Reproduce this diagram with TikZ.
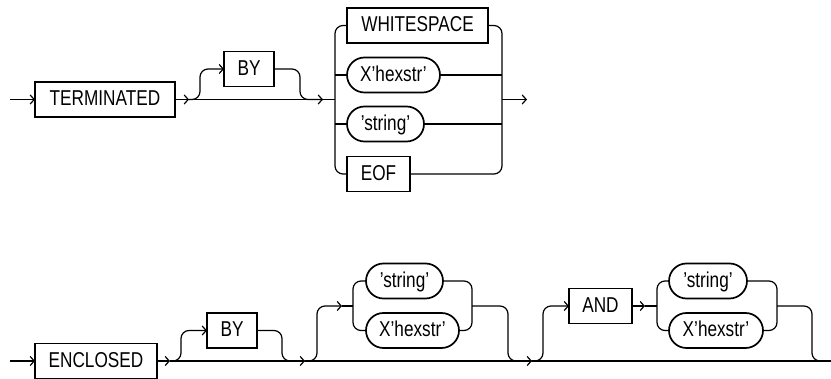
\documentclass[tikz,border=0pt]{standalone}
\usepackage{fontspec}
\setmainfont{Liberation Sans}[FakeStretch=0.8]
\usetikzlibrary{arrows.meta}
\begin{document}
\begin{tikzpicture}[x=1pt,y=-1pt,
 line/.style={line width=1.2pt},
 arr/.style={line, -{Straight Barb[length=4pt,width=9pt]}},
 rc/.style={line, rounded corners=8pt},
 kw/.style={draw, line width=1.7pt, minimum height=35pt, anchor=west, outer sep=0pt, inner sep=0pt,
   text height=16pt, text depth=3.5pt, font=\fontsize{21.5}{24}\selectfont},
 lit/.style={kw, rounded corners=17.5pt}]
\useasboundingbox (0,0) rectangle (831,379);

% ---------- top row ----------
\node[kw, minimum width=140pt] (term) at (35,99.5) {TERMINATED};
\node[kw, minimum width=50pt] (by1) at (224,69) {BY};
\node[kw, minimum width=141pt] (ws) at (347,25.5) {WHITESPACE};
\node[lit, minimum width=93pt] (hex1) at (347,75) {X’hexstr’};
\node[lit, minimum width=77pt] (str1) at (347,124) {’string’};
\node[kw, minimum width=63pt] (eof) at (347,174) {EOF};

\coordinate (s1) at (10,99.5);
\coordinate (t1) at (189,99.5);
\coordinate (u1) at (200,99.5);
\coordinate (d1) at (300,99.5);
\coordinate (t2) at (323,99.5);
\coordinate (cl) at (335,99.5);
\coordinate (cr) at (502,99.5);
\coordinate (e1) at (527,99.5);

\draw[arr] (s1) -- (term.west);
\draw[arr] (term.east) -- (t1);
\draw[arr] (t1) -- (t2);
\draw[line] (t2) -- (cl);
\draw[arr, rc] (t1) -- (u1) |- (by1.west);
\draw[rc] (by1.east) -| (d1) -- (t2);

\draw[rc] (ws.west) -| (cl) |- (eof.west);
\draw[line] (hex1.west) -- (hex1.west -| cl);
\draw[line] (str1.west) -- (str1.west -| cl);
\draw[rc] (ws.east) -| (cr) |- (eof.east);
\draw[line] (hex1.east) -- (hex1.east -| cr);
\draw[line] (str1.east) -- (str1.east -| cr);
\draw[arr] (cr) -- (e1);

% ---------- bottom row ----------
\node[kw, minimum width=122pt] (enc) at (35,361) {ENCLOSED};
\node[kw, minimum width=50pt] (by2) at (207,330.5) {BY};
\node[lit, minimum width=77pt] (str2) at (366,281) {’string’};
\node[lit, minimum width=93pt] (hex2) at (366,330.5) {X’hexstr’};
\node[kw, minimum width=63pt] (and) at (569,306) {AND};
\node[lit, minimum width=78pt] (str3) at (669,281) {’string’};
\node[lit, minimum width=94pt] (hex3) at (669,330.5) {X’hexstr’};

\coordinate (s2) at (10,361);
\coordinate (b1) at (170,361);
\coordinate (u2) at (181,361);
\coordinate (d2) at (282,361);
\coordinate (b2) at (305,361);
\coordinate (u3) at (317,361);
\coordinate (a3) at (342,306);
\coordinate (gl1) at (353,306);
\coordinate (gr1) at (472,306);
\coordinate (d3) at (508,361);
\coordinate (b3) at (532,361);
\coordinate (u4) at (543,361);
\coordinate (a4) at (645,306);
\coordinate (gl2) at (657,306);
\coordinate (gr2) at (777,306);
\coordinate (d4) at (812,361);
\coordinate (bend) at (831,361);

\draw[arr] (s2) -- (enc.west);
\draw[arr] (enc.east) -- (b1);
\draw[arr] (b1) -- (b2);
\draw[arr] (b2) -- (b3);
\draw[line] (b3) -- (bend);

\draw[arr, rc] (b1) -- (u2) |- (by2.west);
\draw[rc] (by2.east) -| (d2) -- (b2);

\draw[arr, rc] (b2) -- (u3) |- (a3);
\draw[line] (a3) -- (gl1);
\draw[rc] (str2.west) -| (gl1) |- (hex2.west);
\draw[rc] (str2.east) -| (gr1) |- (hex2.east);
\draw[rc] (gr1) -| (d3) -- (b3);

\draw[arr, rc] (b3) -- (u4) |- (and.west);
\draw[arr] (and.east) -- (a4);
\draw[line] (a4) -- (gl2);
\draw[rc] (str3.west) -| (gl2) |- (hex3.west);
\draw[rc] (str3.east) -| (gr2) |- (hex3.east);
\draw[rc] (gr2) -| (d4) -- (bend);
\end{tikzpicture}
\end{document}
